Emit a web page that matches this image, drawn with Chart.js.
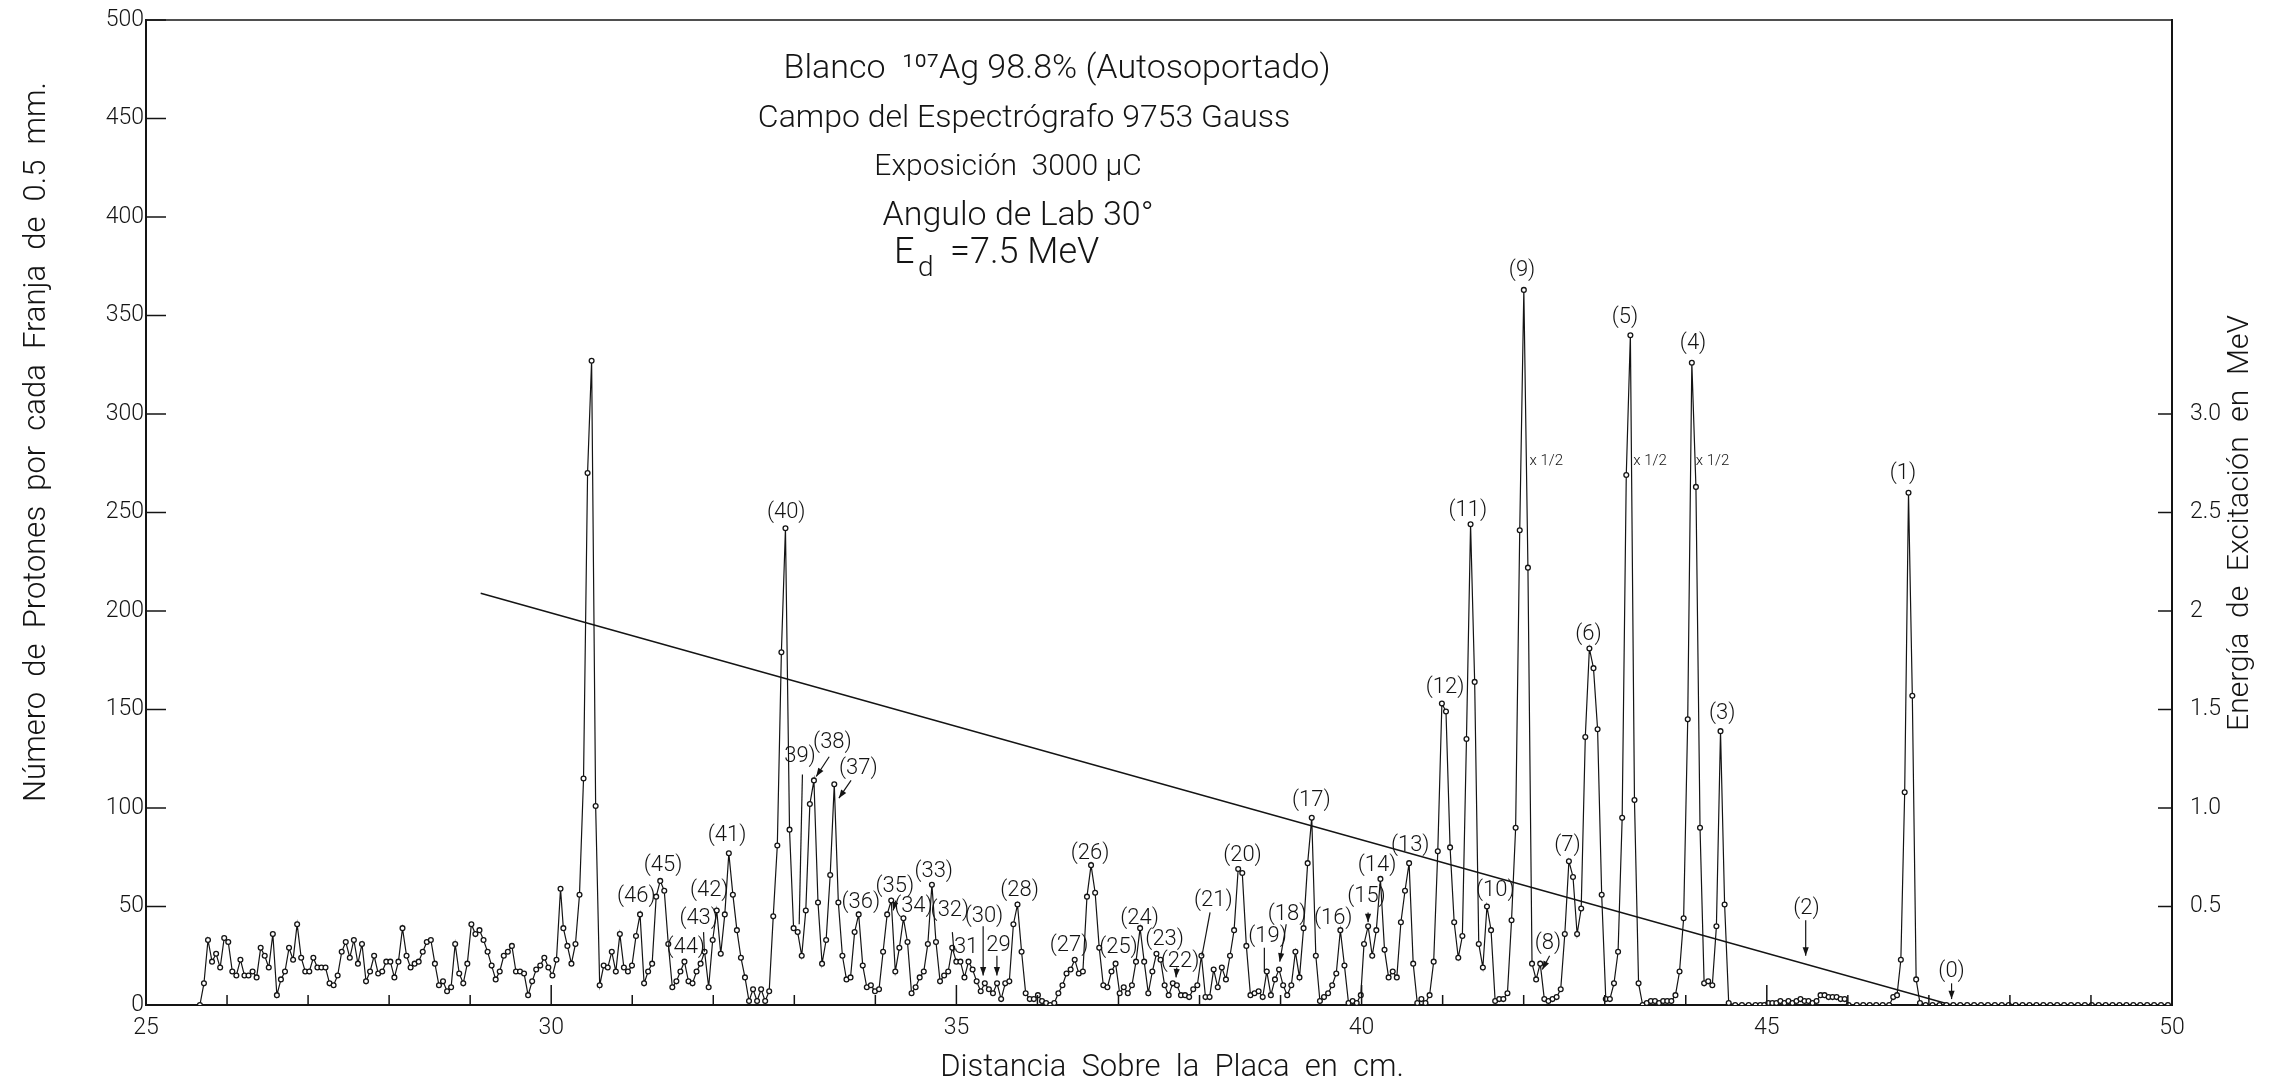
<!DOCTYPE html>
<html lang="es">
<head>
<meta charset="UTF-8">
<title>Espectro de protones 107Ag</title>
<style>
  html, body { margin: 0; padding: 0; background: #fff; }
  #spectrum { display: block; }
</style>
</head>
<body>
<canvas id="spectrum" width="2290" height="1086"></canvas>

<script src="https://cdn.jsdelivr.net/npm/chart.js"></script>
<script>
// Proton counts per 0.5 mm strip
const countsA = [0, 11, 33, 22, 26, 19, 34, 32, 17, 15, 23, 15, 15, 17, 14, 29, 25, 19, 36, 5,
  13, 17, 29, 23, 41, 24, 17, 17, 24, 19, 19, 19, 11, 10, 15, 27, 32, 24, 33, 21,
  31, 12, 17, 25, 16, 17, 22, 22, 14, 22, 39, 25, 19, 21, 22, 27, 32, 33, 21, 10,
  12, 7, 9, 31, 16, 11, 21, 41, 36, 38, 33, 27, 20, 13, 17, 25, 27, 30, 17, 17,
  16, 5, 12, 18, 20, 24, 19, 15, 23, 59];
const countsB = [39, 30, 21, 31, 56, 115, 270, 327, 101, 10, 20, 19, 27, 17, 36, 19, 17, 20, 35, 46,
  11, 17, 21, 55, 63, 58, 31, 9, 12, 17, 22, 12, 11, 17, 21, 27, 9, 33, 48, 26,
  46, 77, 56, 38, 24, 14, 2, 8, 2, 8, 2, 7];
const countsC = [45, 81, 179, 242, 89, 39, 37, 25, 48, 102, 114, 52, 21, 33, 66, 112, 52, 25, 13, 14,
  37, 46, 20, 9, 10, 7, 8, 27, 46, 53, 17, 29, 44, 32, 6, 9, 14, 17, 31, 61,
  32, 12, 15, 17, 29, 22, 22, 14, 22, 18, 12];
const countsD = [7, 11, 8, 6, 11, 3, 11, 12, 41, 51, 27, 6, 3, 3, 5, 2, 1, 0, 1, 6,
  10, 16, 18, 23, 16, 17, 55, 71, 57, 29, 10, 9, 17, 21, 6, 9, 6, 10, 22, 39,
  22, 6, 17, 26, 23, 10, 5, 11, 10, 5, 5, 4, 8, 10, 25, 4, 4, 18, 9, 19,
  13, 25, 38, 69, 67, 30, 5, 6, 7, 4, 17, 5, 13, 18, 10, 5, 10, 27, 14, 39,
  72, 95, 25, 2, 4, 6, 10, 16, 38, 20, 1, 2, 1, 5];
const countsE = [31, 40, 25, 38, 64, 28, 14, 17, 14, 42, 58, 72, 21, 1, 3, 1, 5, 22, 78, 153,
  149, 80, 42, 24, 35, 135, 244, 164, 31, 19, 50, 38, 2, 3, 3, 6, 43, 90, 241, 363,
  222, 21, 13, 21, 3, 2, 3, 4, 8, 36, 73, 65, 36, 49, 136, 181, 171, 140, 56, 3,
  3, 11, 27, 95, 269, 340, 104, 11, 0, 1, 2, 2, 1, 2, 2, 2, 5, 17, 44, 145,
  326, 263, 90, 11, 12, 10, 40, 139, 51, 1];
const countsF = [0, 0, 0, 0];
const countsG = [0, 0, 1, 1, 1, 2, 1, 2, 1, 2, 3, 2, 2, 1, 2, 5, 5, 4, 4, 4, 3, 3, 0];
const countsH = [0, 0, 0, 0, 0, 0];
const countsI = [4, 5, 23, 108, 260, 157, 13, 1];
const countsJ = [0, 0, 0, 0, 0, 0, 0, 0, 0, 0, 0, 0, 0, 0, 0, 0, 0, 0,
  0, 0, 0, 0, 0, 0, 0, 0, 0, 0, 0, 0, 0, 0, 0, 0, 0, 0];

// plate position (cm) of the first and last strip of each run
const runStart = [25.665, 30.15, 32.74, 35.30, 40.03, 44.61, 44.92, 46.11, 46.56, 46.96];
const runEnd = [30.115, 32.69, 35.25, 39.99, 44.53, 44.86, 46.01, 46.51, 46.89, 49.95];
const runCounts = [countsA, countsB, countsC, countsD, countsE, countsF, countsG, countsH, countsI, countsJ];

// excitation energy calibration line (position cm, counts scale = MeV x 100)
const calibX = [29.13, 47.28];
const calibY = [209, 0];

const xTickLabels = [25, 30, 35, 40, 45, 50];
const yTicks = [0, 50, 100, 150, 200, 250, 300, 350, 400, 450, 500];
const energyTicks = [0.5, 1.0, 1.5, 2, 2.5, 3.0];
const energyLabels = ['0.5', '1.0', '1.5', '2', '2.5', '3.0'];

const peakLabels = [
  ['(46)', 31.05, 55], ['(45)', 31.38, 71], ['(44)', 31.66, 29], ['(43)', 31.82, 44],
  ['(42)', 31.95, 58], ['(41)', 32.17, 86], ['(40)', 32.9, 250], ['39)', 33.07, 126],
  ['(38)', 33.47, 133], ['(37)', 33.79, 120], ['(36)', 33.82, 52], ['(35)', 34.24, 60],
  ['(34)', 34.47, 50], ['(33)', 34.72, 68], ['(32)', 34.92, 48], ['31', 35.12, 29],
  ['(30)', 35.34, 45], ['29', 35.52, 30], ['(28)', 35.78, 58], ['(27)', 36.39, 30],
  ['(26)', 36.65, 77], ['(25)', 37.0, 29], ['(24)', 37.26, 44], ['(23)', 37.57, 33],
  ['(22)', 37.76, 22], ['(21)', 38.17, 53], ['(20)', 38.53, 76], ['(19)', 38.84, 35],
  ['(18)', 39.08, 46], ['(17)', 39.38, 104], ['(16)', 39.65, 44], ['(15)', 40.06, 55],
  ['(14)', 40.19, 71], ['(13)', 40.6, 81], ['(12)', 41.03, 161], ['(11)', 41.31, 251],
  ['(10)', 41.65, 58], ['(9)', 41.98, 373], ['(8)', 42.3, 31], ['(7)', 42.54, 81],
  ['(6)', 42.8, 188], ['(5)', 43.25, 349], ['(4)', 44.09, 336], ['(3)', 44.45, 148],
  ['(2)', 45.49, 49], ['(1)', 46.68, 270], ['(0)', 47.28, 17]
];
const halfScaleLabels = [[42.28, 276], [43.56, 276], [44.33, 276]];

// x1, y1, x2, y2, arrowhead at the end
const pointers = [
  [33.10, 117, 33.06, 41, false], [33.43, 126, 33.27, 116, true], [33.70, 114, 33.55, 105, true],
  [34.25, 53, 34.22, 48, true], [34.95, 37, 34.97, 27, false], [35.33, 40, 35.33, 15, true],
  [35.50, 25, 35.50, 15, true], [37.72, 19, 37.71, 14, true], [38.13, 47, 38.03, 25, false],
  [38.80, 29, 38.80, 17, false], [39.07, 41, 38.99, 22, true], [40.08, 47, 40.08, 42, true],
  [42.32, 25, 42.23, 18, true], [45.48, 43, 45.48, 25, true], [47.28, 11, 47.28, 3, true],
  [31.88, 37, 31.89, 27, false]
];

const INK = '#141414';
const FONT = 'Roboto, "Liberation Sans", sans-serif';

// build the plotted points from the runs
const spectrum = [];
runCounts.forEach((counts, r) => {
  const step = (runEnd[r] - runStart[r]) / (counts.length - 1);
  counts.forEach((c, i) => spectrum.push({ x: runStart[r] + i * step, y: c }));
});
const calib = calibX.map((v, i) => ({ x: v, y: calibY[i] }));

function seg(ctx, x1, y1, x2, y2) {
  ctx.beginPath();
  ctx.moveTo(x1, y1);
  ctx.lineTo(x2, y2);
  ctx.stroke();
}

const annotate = {
  id: 'annotate',
  afterDraw(chart) {
    const { ctx, chartArea: a, scales: { x, y, y2 } } = chart;
    ctx.save();
    ctx.strokeStyle = INK;
    ctx.fillStyle = INK;

    // frame top + inward ticks
    ctx.lineWidth = 1.5;
    seg(ctx, a.left, a.top, a.right, a.top);
    yTicks.forEach(v => {
      const py = y.getPixelForValue(v);
      seg(ctx, a.left, py, a.left + 20, py);
    });
    energyTicks.forEach(v => {
      const py = y2.getPixelForValue(v);
      seg(ctx, a.right - 14, py, a.right, py);
    });
    for (let c = 26; c < 50; c++) {
      const px = x.getPixelForValue(c);
      seg(ctx, px, a.bottom, px, a.bottom - (c % 5 === 0 ? 20 : 10));
    }

    // energy scale labels, right of the frame
    ctx.textAlign = 'left';
    ctx.textBaseline = 'middle';
    ctx.font = '300 23px ' + FONT;
    energyTicks.forEach((v, i) => {
      ctx.fillText(energyLabels[i], a.right + 18, y2.getPixelForValue(v));
    });

    // pointer lines
    ctx.lineWidth = 1.2;
    pointers.forEach(([x1, y1, x2, y2v, arrow]) => {
      const p1x = x.getPixelForValue(x1), p1y = y.getPixelForValue(y1);
      const p2x = x.getPixelForValue(x2), p2y = y.getPixelForValue(y2v);
      seg(ctx, p1x, p1y, p2x, p2y);
      if (arrow) {
        const ang = Math.atan2(p2y - p1y, p2x - p1x);
        ctx.beginPath();
        ctx.moveTo(p2x, p2y);
        ctx.lineTo(p2x - 9 * Math.cos(ang - 0.35), p2y - 9 * Math.sin(ang - 0.35));
        ctx.lineTo(p2x - 9 * Math.cos(ang + 0.35), p2y - 9 * Math.sin(ang + 0.35));
        ctx.closePath();
        ctx.fill();
      }
    });

    // peak numbers
    ctx.textAlign = 'center';
    ctx.font = '300 22px ' + FONT;
    peakLabels.forEach(([t, lx, ly]) => {
      ctx.fillText(t, x.getPixelForValue(lx), y.getPixelForValue(ly));
    });
    ctx.font = '300 15px ' + FONT;
    halfScaleLabels.forEach(([lx, ly]) => {
      ctx.fillText('x 1/2', x.getPixelForValue(lx), y.getPixelForValue(ly));
    });

    // run conditions
    ctx.font = '300 34px ' + FONT;
    ctx.fillText('Blanco  ¹⁰⁷Ag 98.8% (Autosoportado)', 1057, 69);
    ctx.font = '300 32px ' + FONT;
    ctx.fillText('Campo del Espectrógrafo 9753 Gauss', 1024, 119);
    ctx.font = '300 30px ' + FONT;
    ctx.fillText('Exposición  3000 µC', 1008, 167);
    ctx.font = '300 34px ' + FONT;
    ctx.fillText('Angulo de Lab 30°', 1018, 216);
    ctx.textAlign = 'left';
    ctx.font = '300 36px ' + FONT;
    ctx.fillText('E', 894, 254);
    ctx.font = '300 28px ' + FONT;
    ctx.fillText('d', 918, 269);
    ctx.font = '300 36px ' + FONT;
    ctx.fillText('=7.5 MeV', 950, 254);

    // axis titles
    ctx.textAlign = 'center';
    ctx.font = '300 31px ' + FONT;
    ctx.fillText('Distancia  Sobre  la  Placa  en  cm.', 1172, 1068);
    ctx.save();
    ctx.translate(37, 442);
    ctx.rotate(-Math.PI / 2);
    ctx.fillText('Número  de  Protones  por  cada  Franja  de  0.5  mm.', 0, 0);
    ctx.restore();
    ctx.save();
    ctx.translate(2240, 523);
    ctx.rotate(-Math.PI / 2);
    ctx.font = '300 30px ' + FONT;
    ctx.fillText('Energía  de  Excitación  en  MeV', 0, 0);
    ctx.restore();

    ctx.restore();
  }
};

const tickFont = { family: FONT, size: 23, weight: 300 };

new Chart(document.getElementById('spectrum').getContext('2d'), {
  type: 'scatter',
  data: {
    datasets: [{
      data: spectrum,
      showLine: true,
      borderColor: INK,
      borderWidth: 1.2,
      pointRadius: 2.4,
      pointBackgroundColor: '#fff',
      pointBorderColor: INK,
      pointBorderWidth: 1.3,
      tension: 0
    }, {
      data: calib,
      showLine: true,
      borderColor: INK,
      borderWidth: 1.5,
      pointRadius: 0
    }]
  },
  options: {
    responsive: false,
    animation: false,
    devicePixelRatio: 1,
    layout: { padding: { top: 20, left: 0, right: 0, bottom: 0 } },
    plugins: { legend: { display: false }, tooltip: { enabled: false } },
    scales: {
      x: {
        type: 'linear', min: 25, max: 50,
        afterBuildTicks: s => { s.ticks = xTickLabels.map(v => ({ value: v })); },
        afterFit: s => { s.height = 81; },
        grid: { display: false, drawTicks: false },
        border: { display: true, color: INK, width: 2 },
        ticks: { font: tickFont, color: INK, padding: 9, maxRotation: 0 }
      },
      y: {
        type: 'linear', position: 'left', min: 0, max: 500,
        afterBuildTicks: s => { s.ticks = yTicks.map(v => ({ value: v })); },
        afterFit: s => { s.width = 146; },
        grid: { display: false, drawTicks: false },
        border: { display: true, color: INK, width: 2 },
        ticks: { font: tickFont, color: INK, padding: 2 }
      },
      y2: {
        type: 'linear', position: 'right', min: 0, max: 5,
        afterFit: s => { s.width = 118; },
        grid: { display: false, drawTicks: false },
        border: { display: true, color: INK, width: 2 },
        ticks: { display: false }
      }
    }
  },
  plugins: [annotate]
});
</script>
</body>
</html>
